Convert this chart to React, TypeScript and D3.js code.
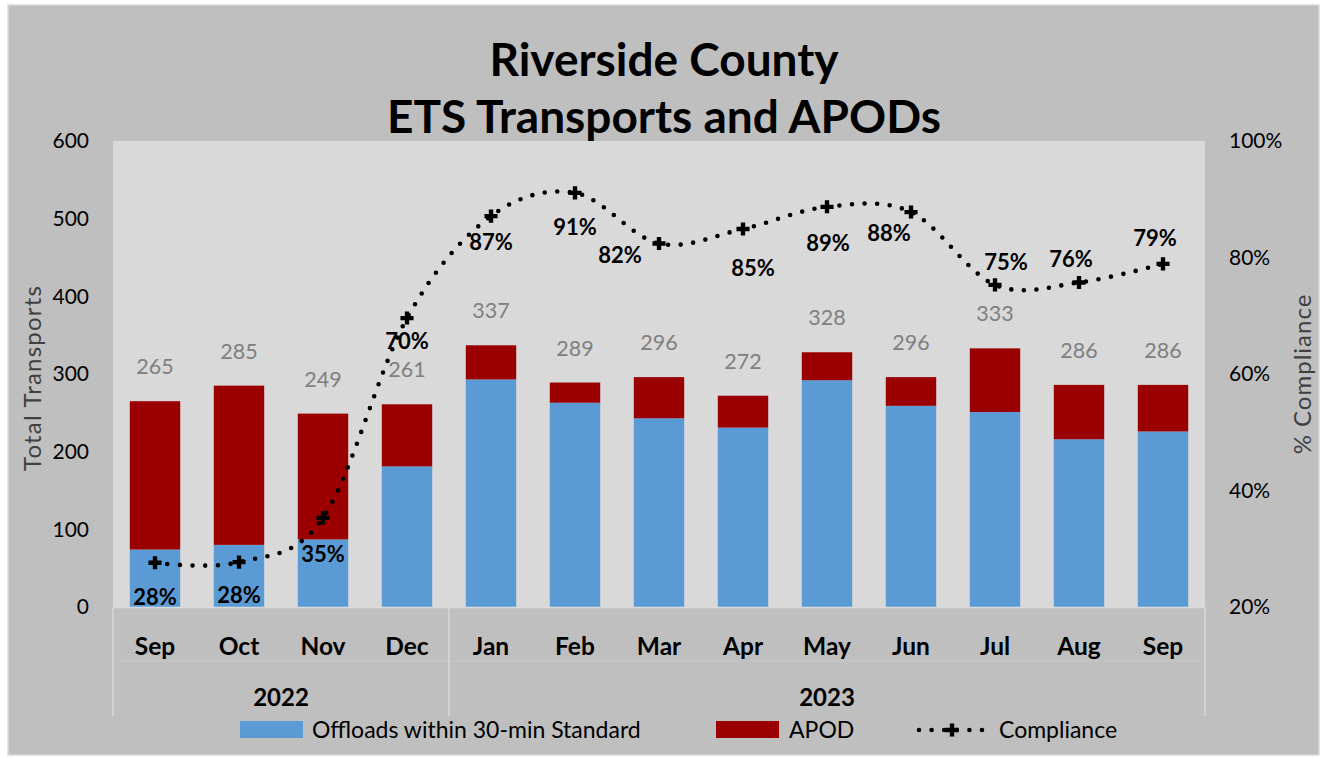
import React from 'react';
import * as d3 from 'd3';

const months = ['Sep', 'Oct', 'Nov', 'Dec', 'Jan', 'Feb', 'Mar', 'Apr', 'May', 'Jun', 'Jul', 'Aug', 'Sep'];
const yearGroups = [
  { label: '2022', first: 0, last: 3 },
  { label: '2023', first: 4, last: 12 },
];
const totals = [265, 285, 249, 261, 337, 289, 296, 272, 328, 296, 333, 286, 286];
const offloads = [74, 80, 87, 181, 293, 263, 243, 231, 292, 259, 251, 216, 226];
const apods = [191, 205, 162, 80, 44, 26, 53, 41, 36, 37, 82, 70, 60];
const compliance = [0.276, 0.277, 0.353, 0.696, 0.871, 0.911, 0.824, 0.849, 0.887, 0.878, 0.753, 0.757, 0.789];
const leftTicks = [0, 100, 200, 300, 400, 500, 600];
const rightTicks = [0.2, 0.4, 0.6, 0.8, 1.0];
// manual placement of the compliance data labels relative to their markers (dx, dy)
const complianceLabelOffsets: [number, number][] = [
  [0, 35], [0, 33], [0, 36], [0, 23], [0, 26], [0, 34], [-39, 12],
  [10, 39], [1, 36], [-22, 21], [11, -23], [-8, -23], [-8, -26],
];

const FONT = 'Lato, "Open Sans", sans-serif';
const BLUE = '#5b9bd5';
const RED = '#9b0000';

export default function App() {
  const W = 1323, H = 759;
  const plot = { left: 113, right: 1205, top: 141, bottom: 607 };
  const idx = months.map((_, i) => i);
  const x = d3.scaleBand<number>().domain(idx).range([plot.left, plot.right]).paddingInner(0.4).paddingOuter(0.2);
  const yL = d3.scaleLinear().domain([0, 600]).range([plot.bottom, plot.top]);
  const yR = d3.scaleLinear().domain([0.2, 1.0]).range([plot.bottom, plot.top]);
  const cx = (i: number) => (x(i) as number) + x.bandwidth() / 2;
  const step = x.step();
  const line = d3.line<number>().x((_, i) => cx(i)).y((d) => yR(d)).curve(d3.curveCardinal.tension(0));
  const cross = d3.symbol().type(d3.symbolCross).size(95)();
  const pct = d3.format('.0%');
  const catBottom = 716;

  const groupEdge = (g: { first: number; last: number }) => [
    g.first === 0 ? plot.left : (x(g.first) as number) - (step - x.bandwidth()) / 2,
    g.last === months.length - 1 ? plot.right : (x(g.last) as number) + x.bandwidth() + (step - x.bandwidth()) / 2,
  ];

  return (
    <div style={{ position: 'absolute', left: 0, top: 0 }}>
      <svg width={W} height={H} style={{ display: 'block', fontFamily: FONT }}>
        <rect x={0} y={0} width={W} height={H} fill="#ffffff" />
        <rect x={8} y={5} width={1311} height={750} fill="#bfbfbf" stroke="#d9d9d9" strokeWidth={1.5} />
        {/* title */}
        <text x={664} y={76} textAnchor="middle" fontSize={46} fontWeight={700} fill="#000">Riverside County</text>
        <text x={664} y={133} textAnchor="middle" fontSize={46} fontWeight={700} fill="#000">ETS Transports and APODs</text>

        {/* plot area */}
        <rect x={plot.left} y={plot.top} width={plot.right - plot.left} height={plot.bottom - plot.top} fill="#d9d9d9" />

        {/* bars */}
        {idx.map((i) => (
          <g key={'b' + i}>
            <rect x={x(i)} y={yL(offloads[i])} width={x.bandwidth()} height={yL(0) - yL(offloads[i])} fill={BLUE} />
            <rect x={x(i)} y={yL(offloads[i] + apods[i])} width={x.bandwidth()} height={yL(0) - yL(apods[i])} fill={RED} />
          </g>
        ))}

        {/* total labels */}
        {idx.map((i) => (
          <text key={'t' + i} x={cx(i)} y={yL(totals[i]) - 27} textAnchor="middle" fontSize={21.5} fill="#808080">
            {totals[i]}
          </text>
        ))}

        {/* compliance line */}
        <path d={line(compliance) || ''} fill="none" stroke="#000" strokeWidth={4.6} strokeDasharray="0 12.6" strokeLinecap="round" />
        {idx.map((i) => (
          <path key={'m' + i} d={cross || ''} transform={`translate(${cx(i)},${yR(compliance[i])})`} fill="#000" />
        ))}
        {idx.map((i) => (
          <text
            key={'c' + i}
            x={cx(i) + complianceLabelOffsets[i][0]}
            y={yR(compliance[i]) + complianceLabelOffsets[i][1]}
            dy="0.35em"
            textAnchor="middle"
            fontSize={22}
            fontWeight={700}
            fill="#000"
          >
            {pct(compliance[i])}
          </text>
        ))}

        {/* left axis */}
        {leftTicks.map((t) => (
          <text key={'l' + t} x={89} y={yL(t)} dy="0.35em" textAnchor="end" fontSize={21} fill="#000">{t}</text>
        ))}
        <text transform={`translate(41,${(plot.top + plot.bottom) / 2 + 4}) rotate(-90)`} textAnchor="middle" fontSize={24} fill="#404040" letterSpacing={1.2}>
          Total Transports
        </text>

        {/* right axis */}
        {rightTicks.map((t) => (
          <text key={'r' + t} x={1229} y={yR(t)} dy="0.35em" textAnchor="start" fontSize={21} fill="#000">{d3.format('.0%')(t)}</text>
        ))}
        <text transform={`translate(1311,${(plot.top + plot.bottom) / 2}) rotate(-90)`} textAnchor="middle" fontSize={24} fill="#404040" letterSpacing={1}>
          % Compliance
        </text>

        {/* category axis */}
        <line x1={plot.left} x2={plot.right} y1={plot.bottom + 0.5} y2={plot.bottom + 0.5} stroke="#d9d9d9" strokeWidth={1.5} />
        <line x1={plot.left} x2={plot.right} y1={661} y2={661} stroke="#c6c6c6" strokeWidth={1} />
        {yearGroups.map((g, k) => {
          const [a, b] = groupEdge(g);
          return (
            <g key={'g' + k}>
              <line x1={a} x2={a} y1={plot.bottom} y2={catBottom} stroke="#d9d9d9" strokeWidth={1.5} />
              {g.last === months.length - 1 && <line x1={b} x2={b} y1={plot.bottom} y2={catBottom} stroke="#d9d9d9" strokeWidth={1.5} />}
              <text x={(a + b) / 2} y={706} textAnchor="middle" fontSize={24} fontWeight={700} fill="#000">{g.label}</text>
            </g>
          );
        })}
        {idx.map((i) => (
          <text key={'x' + i} x={cx(i)} y={655} textAnchor="middle" fontSize={24.5} fontWeight={700} fill="#000">{months[i]}</text>
        ))}

        {/* legend */}
        <rect x={240} y={721} width={63} height={17} fill={BLUE} />
        <text x={312} y={738} fontSize={23} fill="#000">Offloads within 30-min Standard</text>
        <rect x={716} y={721} width={63} height={17} fill={RED} />
        <text x={789} y={738} fontSize={23} fill="#000">APOD</text>
        <line x1={919} x2={986} y1={730} y2={730} stroke="#000" strokeWidth={4.6} strokeDasharray="0 12.6" strokeLinecap="round" />
        <path d={cross || ''} transform="translate(952,730)" fill="#000" />
        <text x={999} y={738} fontSize={23} fill="#000">Compliance</text>
      </svg>
    </div>
  );
}
